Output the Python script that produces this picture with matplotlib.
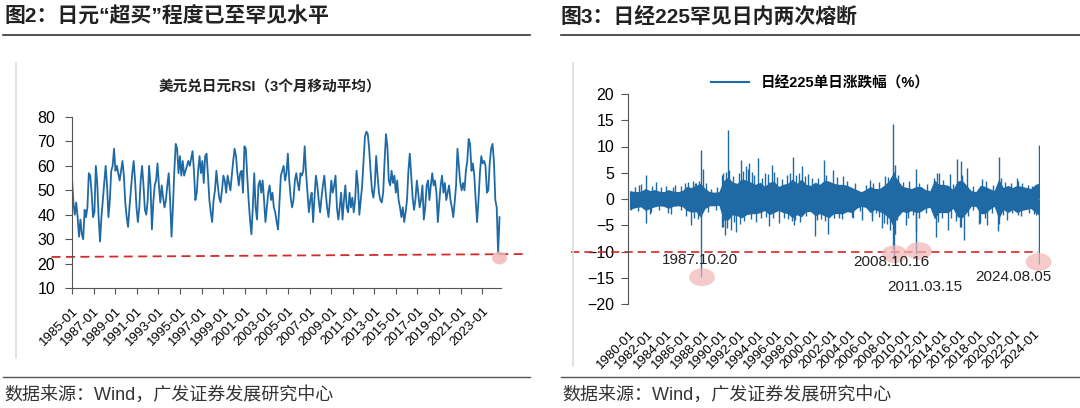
import matplotlib
matplotlib.use('Agg')
import matplotlib.pyplot as plt
import numpy as np
from matplotlib.patches import Ellipse
from matplotlib.lines import Line2D

plt.rcParams['font.family'] = ['Liberation Sans', 'Noto Sans CJK SC']

# ---- 图2: USD/JPY RSI (3-month moving average) ----
rsi_start, rsi_end = 1985.0, 2024.6
rsi = [55, 45, 40, 45, 39, 31, 38, 32, 30, 42, 39, 43, 57, 56, 49, 39, 41, 60, 53, 39,
       29, 39, 46, 53, 60, 52, 39, 46, 58, 60, 67, 58, 60, 57, 54, 58, 62, 56, 45, 39,
       35, 43, 50, 57, 62, 54, 43, 37, 43, 54, 60, 52, 42, 40, 46, 60, 52, 34, 45, 52,
       54, 61, 52, 45, 52, 47, 43, 46, 52, 57, 46, 31, 43, 58, 69, 67, 57, 64, 56, 62,
       56, 58, 60, 62, 60, 63, 66, 58, 46, 49, 58, 64, 57, 62, 53, 64, 65, 56, 46, 41,
       37, 46, 50, 58, 52, 47, 45, 50, 56, 54, 49, 56, 53, 50, 56, 62, 67, 64, 57, 52,
       57, 58, 49, 68, 67, 56, 46, 38, 32, 43, 57, 43, 38, 52, 54, 49, 54, 46, 37, 43,
       49, 52, 46, 49, 43, 41, 37, 34, 45, 56, 58, 60, 54, 57, 65, 54, 47, 43, 46, 54,
       57, 53, 50, 57, 56, 58, 68, 57, 49, 41, 46, 49, 37, 47, 56, 52, 46, 41, 47, 52,
       56, 49, 43, 39, 46, 54, 49, 52, 56, 43, 38, 43, 49, 38, 46, 52, 43, 41, 49, 43,
       47, 41, 46, 58, 52, 40, 46, 52, 62, 72, 74, 73, 67, 58, 50, 47, 52, 64, 56, 49,
       46, 45, 49, 62, 73, 68, 54, 52, 58, 53, 56, 49, 54, 46, 43, 39, 43, 37, 41, 46,
       58, 65, 56, 47, 42, 46, 54, 49, 43, 46, 52, 38, 43, 52, 54, 46, 52, 57, 52, 54,
       49, 37, 45, 52, 56, 49, 53, 46, 49, 52, 46, 43, 39, 45, 52, 67, 60, 53, 50, 53,
       50, 58, 62, 71, 69, 58, 61, 56, 46, 37, 46, 57, 64, 61, 62, 60, 49, 50, 61, 67,
       69, 62, 46, 43, 24, 39]
rsi_ticks = list(range(1985, 2024, 2))
rsi_level = [22.7, 23.9]

# ---- 图3: Nikkei 225 daily change (%) ----
# half-year envelope of the dense band, then single-day spikes
nk_mid = [1980.25 + 0.5 * i for i in range(90)]
nk_upper = [1.6, 1.4, 1.5, 2.0, 1.6, 1.8, 1.5, 1.4, 1.8, 1.5,
            1.4, 1.6, 2.4, 2.2, 2.6, 3.0, 2.0, 1.4, 1.3, 1.4,
            3.5, 4.2, 3.2, 3.0, 3.8, 3.6, 3.2, 2.8, 3.2, 2.4,
            3.2, 3.4, 2.4, 2.8, 3.0, 3.8, 3.0, 3.8, 2.8, 2.6,
            3.2, 2.8, 3.6, 3.4, 3.0, 2.8, 2.8, 2.6, 2.2, 1.8,
            1.4, 1.8, 2.4, 2.0, 2.0, 2.6, 3.4, 5.0, 3.6, 2.4,
            2.2, 2.0, 2.4, 2.4, 1.8, 1.6, 3.6, 2.8, 2.8, 2.6,
            1.8, 3.4, 3.6, 2.6, 1.6, 1.4, 2.6, 2.4, 2.0, 1.6,
            3.8, 2.2, 2.6, 2.2, 2.6, 2.4, 2.2, 2.0, 2.8, 3.0]
nk_lower = [-2.0, -1.6, -1.5, -2.2, -1.8, -1.5, -1.3, -1.4, -1.8, -1.4,
            -1.3, -1.4, -2.2, -2.5, -2.4, -3.5, -1.8, -1.3, -1.3, -1.2,
            -4.0, -4.0, -3.0, -3.2, -3.6, -3.0, -2.8, -2.8, -2.6, -2.2,
            -3.0, -2.6, -2.2, -2.6, -2.8, -3.6, -3.0, -3.4, -2.4, -2.4,
            -3.2, -2.8, -3.2, -3.6, -2.8, -2.8, -2.8, -2.4, -2.6, -1.8,
            -1.4, -1.6, -2.6, -2.0, -2.4, -2.8, -3.6, -5.0, -3.4, -2.4,
            -2.6, -2.2, -2.6, -2.4, -1.8, -1.6, -3.8, -2.6, -2.6, -2.6,
            -1.8, -3.4, -3.6, -2.6, -1.4, -1.4, -2.8, -2.8, -2.0, -1.4,
            -3.8, -2.0, -2.6, -2.0, -2.6, -2.2, -2.0, -1.8, -2.6, -3.0]
nk_start, nk_end = 1980.0, 2024.6
spike_year = [1980.17, 1981.1, 1981.8, 1981.81, 1982.4, 1982.9, 1984.2, 1985.0, 1986.36, 1986.7,
              1987.3, 1987.80, 1987.81, 1988.05, 1990.2, 1990.25, 1990.46, 1990.75, 1990.9, 1991.1,
              1991.6, 1992.2, 1992.7, 1993.0, 1993.75, 1994.05, 1994.8, 1995.5, 1996.3, 1997.87,
              1997.9, 1998.77, 1999.5, 2000.2, 2001.17, 2001.7, 2002.2, 2004.4, 2005.3, 2006.2,
              2006.4, 2007.5, 2007.9, 2008.4, 2008.77, 2008.78, 2008.79, 2008.82, 2009.0, 2010.2,
              2011.20, 2011.21, 2011.22, 2013.39, 2013.5, 2014.76, 2015.68, 2016.1, 2016.12, 2016.47,
              2016.77, 2018.1, 2018.98, 2020.2, 2020.23, 2021.1, 2022.2, 2024.59, 2024.60,
              # smaller spikes along the band edges
              1980.6, 1981.3, 1982.5, 1983.5, 1984.0, 1984.7, 1985.6, 1986.1, 1986.9, 1987.1,
              1987.6, 1988.3, 1988.9, 1989.6, 1990.1, 1990.5, 1991.3, 1991.9, 1992.4, 1992.9,
              1993.4, 1993.6, 1994.4, 1995.1, 1995.8, 1996.1, 1996.6, 1997.2, 1997.5,
              1980.9, 1982.2, 1983.2, 1984.5, 1985.65, 1986.2, 1987.0, 1987.5, 1988.6, 1989.4,
              1990.1, 1990.6, 1991.4, 1992.1, 1992.5, 1993.3, 1994.3, 1994.9, 1995.2, 1995.7,
              1996.8, 1997.3, 1997.7,
              1998.2, 1998.5, 1999.1, 1999.9, 2000.6, 2001.4, 2002.6, 2003.3, 2003.7, 2004.6,
              2005.8, 2006.6, 2007.2, 2008.2, 2008.95, 2009.3, 2009.8, 2010.5, 2011.6, 2012.4,
              2013.2, 2013.7, 2014.2, 2014.9, 2015.3, 2016.3, 2017.4, 2018.4, 2018.9, 2019.6,
              2020.5, 2020.9, 2021.6, 2022.4, 2022.8, 2023.4, 2023.9,
              1998.1, 1998.6, 1999.3, 2000.5, 2000.9, 2001.3, 2002.3, 2002.8, 2003.2, 2004.3,
              2005.1, 2006.45, 2006.9, 2007.25, 2007.7, 2008.1, 2008.6, 2009.2, 2010.4, 2010.9,
              2011.6, 2012.3, 2013.6, 2014.1, 2015.0, 2015.6, 2016.0, 2016.9, 2017.5, 2018.2,
              2018.8, 2019.5, 2020.3, 2020.7, 2021.7, 2022.3, 2022.7, 2023.6, 2024.1, 2024.3]
spike_val = [-2.1, 2.6, 4.6, -4.6, -2.4, 3.3, -2.7, 2.7, 3.3, -5.0,
             3.1, -14.9, 9.3, 5.7, 4.9, -5.3, -6.8, 13.2, 5.6, -5.9,
             -6.2, 7.5, 6.2, 6.9, -4.3, 7.8, 5.0, 6.4, -4.6, 8.0,
             -4.9, 6.2, 4.8, -7.1, 7.5, -6.6, 5.5, -3.7, -4.0, 3.6,
             -4.2, -5.6, 4.3, -5.9, -9.6, 14.2, -11.4, 5.2, -6.6, -5.0,
             -6.2, -10.55, 5.7, -7.3, 4.9, -5.9, 7.7, -5.4, 7.2, -7.9,
             5.9, -4.7, -5.0, -6.1, 8.0, -4.0, 4.0, -12.4, 10.2,
             2.3, 2.8, 2.4, 2.2, 2.5, 2.2, 2.4, 3.0, 3.4, 3.0,
             3.4, 3.0, 2.0, 2.2, 4.6, 5.2, 4.4, 5.0, 5.4, 5.8,
             5.2, 4.6, 4.0, 4.8, 5.2, 4.2, 3.8, 4.6, 5.0,
             -2.3, -2.8, -2.0, -2.9, -2.0, -3.2, -3.6, -3.8, -2.4, -2.0,
             -5.4, -5.6, -4.4, -4.8, -4.2, -3.8, -3.6, -3.4, -5.1, -3.6,
             -3.6, -3.8, -4.2,
             4.6, 5.0, 4.4, 4.0, 4.0, 4.6, 4.2, 4.4, 3.4, 3.0,
             2.6, 3.0, 3.2, 4.2, 6.4, 4.6, 3.2, 3.4, 3.0, 2.8,
             4.0, 5.0, 3.6, 4.8, 2.8, 4.6, 2.4, 3.8, 3.4, 2.6,
             4.0, 3.2, 3.0, 3.4, 3.0, 2.6, 2.4,
             -4.0, -4.4, -3.2, -4.0, -3.8, -4.2, -3.6, -3.6, -3.8, -3.4,
             -2.2, -3.2, -2.6, -3.4, -4.6, -4.8, -4.8, -4.0, -3.6, -3.0,
             -3.6, -2.6, -4.4, -3.6, -3.6, -4.2, -5.4, -3.2, -2.0, -4.6,
             -3.6, -2.6, -4.8, -3.0, -2.6, -3.0, -3.2, -2.6, -2.8, -3.0]
nk_ticks = list(range(1980, 2025, 2))
crash_labels = ['1987.10.20', '2008.10.16', '2011.03.15', '2024.08.05']
crash_text_xy = [(1987.7, -11.6), (2008.5, -12.0), (2012.17, -16.8), (2021.8, -14.9)]
crash_mark_xy = [(1987.91, -14.9), (2008.9, -10.5), (2011.56, -9.9), (2024.6, -12.0)]

W, H = 1080, 408
fig = plt.figure(figsize=(W / 100, H / 100), dpi=100)


def fx(px):
    return px / W


def fy(py):
    return 1 - py / H


blue = '#1f6aa5'
red = '#d42a2a'
pink = '#f0b4b4'
dark = '#222222'

# headers / footers
fig.text(fx(4), fy(17), '图2：日元“超买”程度已至罕见水平', fontsize=15,
         fontweight='bold', va='center', color=dark)
fig.text(fx(561), fy(17), '图3：日经225罕见日内两次熔断', fontsize=15,
         fontweight='bold', va='center', color=dark)
for x0, x1 in [(3, 530), (561, 1080)]:
    fig.add_artist(Line2D([fx(x0), fx(x1)], [fy(35), fy(35)], color='#333333', lw=1.2))
    fig.add_artist(Line2D([fx(x0), fx(x1)], [fy(377), fy(377)], color='#555555', lw=1.0))
fig.text(fx(4), fy(395), '数据来源：Wind，广发证券发展研究中心', fontsize=13,
         va='center', color='#333333')
fig.text(fx(562), fy(395), '数据来源：Wind，广发证券发展研究中心', fontsize=13,
         va='center', color='#333333')
fig.add_artist(Line2D([fx(15.5), fx(15.5)], [fy(63), fy(358)], color='#dddddd', lw=1.2))
fig.add_artist(Line2D([fx(572.6), fx(572.6)], [fy(63), fy(366)], color='#dddddd', lw=1.2))

# ---- left chart ----
ax1 = fig.add_axes([fx(72), fy(288), (500.6 - 72) / W, (288 - 117) / H])
rsi_x = np.linspace(rsi_start, rsi_end, len(rsi))
ax1.plot(rsi_x, rsi, color=blue, lw=1.3)
ax1.set_xlim(1985.0, 2024.7)
ax1.set_ylim(10, 80)
ax1.set_yticks(range(10, 81, 10))
ax1.set_xticks(rsi_ticks)
ax1.set_xticklabels([f'{y}-01' for y in rsi_ticks], rotation=45, ha='right',
                    va='top', rotation_mode='anchor', fontsize=9.5)
ax1.tick_params(axis='y', labelsize=11.5, length=5, color='#555555', pad=7)
ax1.tick_params(axis='x', length=4, color='#555555', pad=8)
for s in ['top', 'right']:
    ax1.spines[s].set_visible(False)
for s in ['left', 'bottom']:
    ax1.spines[s].set_color('#555555')
ax1.plot([1983.1, 2027.0], rsi_level, color=red, lw=1.3, ls=(0, (5, 3)), clip_on=False)
ax1.add_patch(Ellipse((rsi_end, 22.3), 1.39, 5.3, color=pink, alpha=0.8, lw=0,
                      clip_on=False, zorder=3))
fig.text(fx(270), fy(87), '美元兑日元RSI（3个月移动平均）', fontsize=10.5,
         fontweight='bold', ha='center', va='center', color=dark)

# ---- right chart ----
ax2 = fig.add_axes([fx(628), fy(304), (1040 - 628) / W, (304 - 94) / H])
band_x = [nk_start] + nk_mid[1:-1] + [nk_end]
ax2.fill_between(band_x, nk_lower, nk_upper, color=blue, lw=0)
ax2.vlines(spike_year, 0, spike_val, color=blue, lw=1.0)
ax2.set_xlim(1979.85, 2024.75)
ax2.set_ylim(-20, 20)
ax2.set_yticks(range(-20, 21, 5))
ax2.set_xticks(nk_ticks)
ax2.set_xticklabels([f'{y}-01' for y in nk_ticks], rotation=45, ha='right',
                    va='top', rotation_mode='anchor', fontsize=9.5)
ax2.tick_params(axis='y', labelsize=11.5, length=5, color='#555555', pad=5)
ax2.tick_params(axis='x', length=0, pad=17)
for s in ['top', 'right', 'bottom']:
    ax2.spines[s].set_visible(False)
ax2.spines['left'].set_color('#555555')
ax2.plot([1973.6, 2024.5], [-10, -10], color=red, lw=1.2, ls=(0, (5, 3)), clip_on=False)
for (mx, my) in crash_mark_xy:
    ax2.add_patch(Ellipse((mx, my), 2.8, 3.4, color=pink, alpha=0.7, lw=0,
                          clip_on=False, zorder=3))
for lab, (tx, ty) in zip(crash_labels, crash_text_xy):
    ax2.text(tx, ty, lab, fontsize=11, ha='center', va='center', color=dark, zorder=4)
handle = Line2D([], [], color=blue, lw=1.5)
ax2.legend([handle], ['日经225单日涨跌幅（%）'], loc='center',
           bbox_to_anchor=(fx(820), fy(83)), bbox_transform=fig.transFigure,
           frameon=False, handlelength=2.6, prop={'size': 10.5, 'weight': 'bold'})

fig.savefig('out.png', dpi=100)
